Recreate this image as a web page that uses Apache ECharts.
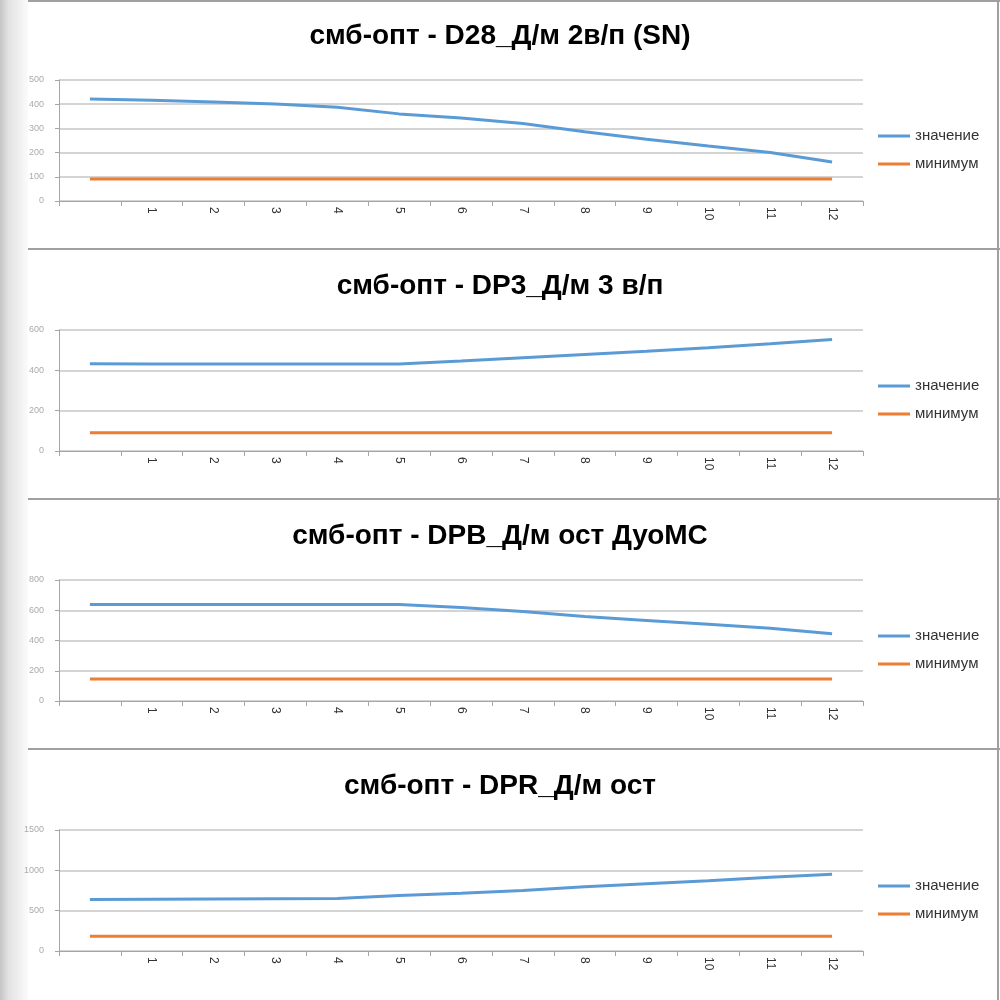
<!DOCTYPE html>
<html>
<head>
<meta charset="utf-8">
<style>
html,body{margin:0;padding:0;background:#fff;}
#c{width:1000px;height:1000px;}
</style>
<script src="https://cdn.jsdelivr.net/npm/echarts@6/dist/echarts.min.js"></script>
</head>
<body>
<div id="c"></div>
<script>
const categories = ['', '1', '2', '3', '4', '5', '6', '7', '8', '9', '10', '11', '12'];
const titles = [
  'смб-опт - D28_Д/м 2в/п (SN)',
  'смб-опт - DP3_Д/м 3 в/п',
  'смб-опт - DPB_Д/м ост ДуоМС',
  'смб-опт - DPR_Д/м ост'
];
const seriesNames = ['значение', 'минимум'];
const value1 = [421, 416, 409, 401, 387, 360, 343, 320, 286, 255, 227, 200, 161];
const min1   = [91, 91, 91, 91, 91, 91, 91, 91, 91, 91, 91, 91, 91];
const value2 = [433, 431, 431, 431, 432, 431, 446, 463, 479, 495, 512, 532, 553];
const min2   = [90, 90, 90, 90, 90, 90, 90, 90, 90, 90, 90, 90, 90];
const value3 = [638, 638, 638, 638, 638, 638, 618, 592, 559, 533, 507, 481, 444];
const min3   = [146, 146, 146, 146, 146, 146, 146, 146, 146, 146, 146, 146, 146];
const value4 = [639, 641, 644, 647, 651, 688, 716, 749, 795, 835, 872, 913, 950];
const min4   = [184, 184, 184, 184, 184, 184, 184, 184, 184, 184, 184, 184, 184];
const yMax = [500, 600, 800, 1500];
const yInterval = [100, 200, 200, 500];

const values = [value1, value2, value3, value4];
const mins = [min1, min2, min3, min4];
const BLUE = '#5b9bd5', ORANGE = '#ed7d31';
const FONT = "'Liberation Sans', sans-serif";

const chart = echarts.init(document.getElementById('c'));
const title = [], legend = [], grid = [], xAxis = [], yAxis = [], series = [];
for (let k = 0; k < 4; k++) {
  const o = 250 * k;
  title.push({
    text: titles[k], left: 'center', top: o + 22, padding: 0,
    textStyle: {fontFamily: FONT, fontWeight: 'bold', fontSize: 28, color: '#000'}
  });
  grid.push({left: 59, right: 137, top: o + 80, height: 121, containLabel: false});
  xAxis.push({
    type: 'category', gridIndex: k, data: categories, boundaryGap: true,
    axisLine: {lineStyle: {color: '#a6a6a6', width: 1}},
    axisTick: {show: true, length: 5, lineStyle: {color: '#a6a6a6'}},
    axisLabel: {rotate: -90, margin: 6, fontSize: 12, color: '#333', fontFamily: FONT, interval: 0}
  });
  yAxis.push({
    type: 'value', gridIndex: k, min: 0, max: yMax[k], interval: yInterval[k],
    axisLine: {show: true, lineStyle: {color: '#a6a6a6', width: 1}},
    axisTick: {show: true, length: 4, lineStyle: {color: '#a6a6a6'}},
    splitLine: {lineStyle: {color: '#c6c6c6', width: 1.5}},
    axisLabel: {fontSize: 9, color: '#aaaaaa', margin: 15, fontFamily: FONT, formatter: v => String(v)}
  });
  legend.push({
    orient: 'vertical', left: 878, top: o + 128, padding: 0,
    icon: 'rect', itemWidth: 32, itemHeight: 3, itemGap: 12,
    data: seriesNames.map(n => ({name: n + '\u200b'.repeat(k)})),
    formatter: n => n.replace(/\u200b/g, ''),
    textStyle: {fontSize: 15, lineHeight: 16, color: '#333', fontFamily: FONT, padding: [0, 0, 0, 0]}
  });
  series.push({
    name: seriesNames[0] + '\u200b'.repeat(k), type: 'line', xAxisIndex: k, yAxisIndex: k,
    data: values[k], symbol: 'none', lineStyle: {color: BLUE, width: 3}, itemStyle: {color: BLUE},
    animation: false
  });
  series.push({
    name: seriesNames[1] + '\u200b'.repeat(k), type: 'line', xAxisIndex: k, yAxisIndex: k,
    data: mins[k], symbol: 'none', lineStyle: {color: ORANGE, width: 3}, itemStyle: {color: ORANGE},
    animation: false
  });
}

const graphic = [
  {type: 'rect', shape: {x: 0, y: 0, width: 28, height: 1000}, z: -10,
   style: {fill: new echarts.graphic.LinearGradient(0, 0, 1, 0, [
     {offset: 0, color: '#c4c4c4'}, {offset: 0.3, color: '#e2e2e2'}, {offset: 1, color: '#fbfbfb'}])}},
  {type: 'rect', shape: {x: 28, y: 0, width: 972, height: 2}, style: {fill: '#a0a0a0'}, z: 100},
  {type: 'rect', shape: {x: 997, y: 0, width: 2, height: 1000}, style: {fill: '#a0a0a0'}, z: 100}
];
[248, 498, 748].forEach(y => graphic.push({
  type: 'rect', shape: {x: 28, y: y, width: 972, height: 2}, style: {fill: '#a0a0a0'}, z: 100
}));

chart.setOption({
  animation: false,
  backgroundColor: '#fff',
  title, legend, grid, xAxis, yAxis, series, graphic
});
</script>
</body>
</html>
